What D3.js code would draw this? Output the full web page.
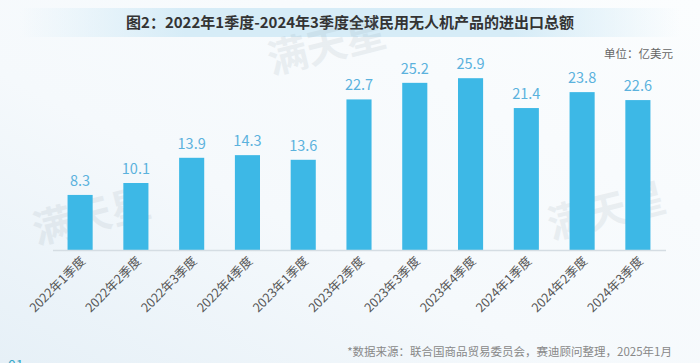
<!DOCTYPE html>
<html>
<head>
<meta charset="utf-8">
<script src="https://cdn.jsdelivr.net/npm/d3@7"></script>
<style>
  body { margin: 0; background: #f4f8fb; }
  svg { display: block; font-family: "Noto Sans CJK SC", "Noto Sans", sans-serif; }
</style>
</head>
<body>
<svg id="chart" width="700" height="363"></svg>
<script>
// quarters and totals (亿美元)
const quarters = ["2022年1季度", "2022年2季度", "2022年3季度", "2022年4季度",
                  "2023年1季度", "2023年2季度", "2023年3季度", "2023年4季度",
                  "2024年1季度", "2024年2季度", "2024年3季度"];
const totals = [8.3, 10.1, 13.9, 14.3, 13.6, 22.7, 25.2, 25.9, 21.4, 23.8, 22.6];

const titleText = "图2：2022年1季度-2024年3季度全球民用无人机产品的进出口总额";
const unitText = "单位：亿美元";
const sourceText = "*数据来源：联合国商品贸易委员会，赛迪顾问整理，2025年1月";

const svg = d3.select("#chart");
const W = 700, H = 363;

// background
let defs = svg.append("defs");
let bg = defs.append("linearGradient").attr("id", "bg")
    .attr("x1", 0).attr("y1", 1).attr("x2", 1).attr("y2", 0);
bg.append("stop").attr("offset", "0%").attr("stop-color", "#e6f0f7");
bg.append("stop").attr("offset", "40%").attr("stop-color", "#f5f9fc");
bg.append("stop").attr("offset", "100%").attr("stop-color", "#fbfdfe");
svg.append("rect").attr("width", W).attr("height", H).attr("fill", "url(#bg)");

let band = defs.append("linearGradient").attr("id", "band");
band.append("stop").attr("offset", "0%").attr("stop-color", "#d6ecf7").attr("stop-opacity", 0);
band.append("stop").attr("offset", "25%").attr("stop-color", "#d6ecf7").attr("stop-opacity", 1);
band.append("stop").attr("offset", "75%").attr("stop-color", "#d6ecf7").attr("stop-opacity", 1);
band.append("stop").attr("offset", "100%").attr("stop-color", "#d6ecf7").attr("stop-opacity", 0);
svg.append("rect").attr("x", 20).attr("y", 8).attr("width", 660).attr("height", 29)
    .attr("fill", "url(#band)");

svg.append("text").attr("x", 350).attr("y", 28)
    .attr("text-anchor", "middle")
    .attr("font-size", 15).attr("font-weight", "bold").attr("fill", "#333")
    .text(titleText);

svg.append("text").attr("x", 673).attr("y", 58)
    .attr("text-anchor", "end")
    .attr("font-size", 11.5).attr("fill", "#666")
    .text(unitText);

// watermarks
const marks = [[95, 230], [330, 60], [610, 225]];
svg.append("g").selectAll("text")
    .data(marks)
    .enter().append("text")
    .attr("transform", d => "translate(" + d[0] + "," + d[1] + ") rotate(-14)")
    .attr("text-anchor", "middle")
    .attr("font-size", 40).attr("font-weight", "bold")
    .attr("fill", "#8a9aa6").attr("opacity", 0.13)
    .text("满天星");

// scales
let x = d3.scaleBand()
    .domain(quarters)
    .range([52.5, 665.5])
    .paddingInner(0.55)
    .paddingOuter(0.27);

let y = d3.scaleLinear()
    .domain([0, 30])
    .range([250, 51]);

let g = svg.append("g");

g.selectAll("rect.bar")
    .data(totals)
    .enter().append("rect")
    .attr("class", "bar")
    .attr("x", (d, i) => x(quarters[i]))
    .attr("y", d => y(d))
    .attr("width", x.bandwidth())
    .attr("height", d => y(0) - y(d))
    .attr("fill", "#3db8e6");

g.selectAll("text.val")
    .data(totals)
    .enter().append("text")
    .attr("class", "val")
    .attr("x", (d, i) => x(quarters[i]) + x.bandwidth() / 2)
    .attr("y", d => y(d) - 9)
    .attr("text-anchor", "middle")
    .attr("font-size", 14.5)
    .attr("fill", "#5bb2dd")
    .text(d => d.toFixed(1));

// axis
let xAxis = d3.axisBottom(x).tickSize(0).tickPadding(0);
let ax = svg.append("g")
    .attr("transform", "translate(0," + y(0) + ")")
    .call(xAxis);
ax.select(".domain").attr("stroke", "#d5dde3").attr("stroke-width", 1.5);
ax.selectAll("text")
    .attr("font-size", 12.5)
    .attr("fill", "#555")
    .attr("font-family", "\"Noto Sans CJK SC\", sans-serif")
    .attr("text-anchor", "end")
    .attr("dy", 0)
    .attr("transform", "translate(6,12) rotate(-45)");

svg.append("text").attr("x", 672).attr("y", 356)
    .attr("text-anchor", "end")
    .attr("font-size", 11.5).attr("fill", "#888")
    .text(sourceText);

svg.append("text").attr("x", 8).attr("y", 370)
    .attr("font-size", 14).attr("fill", "#3aa9c9")
    .text("01");
</script>
</body>
</html>
